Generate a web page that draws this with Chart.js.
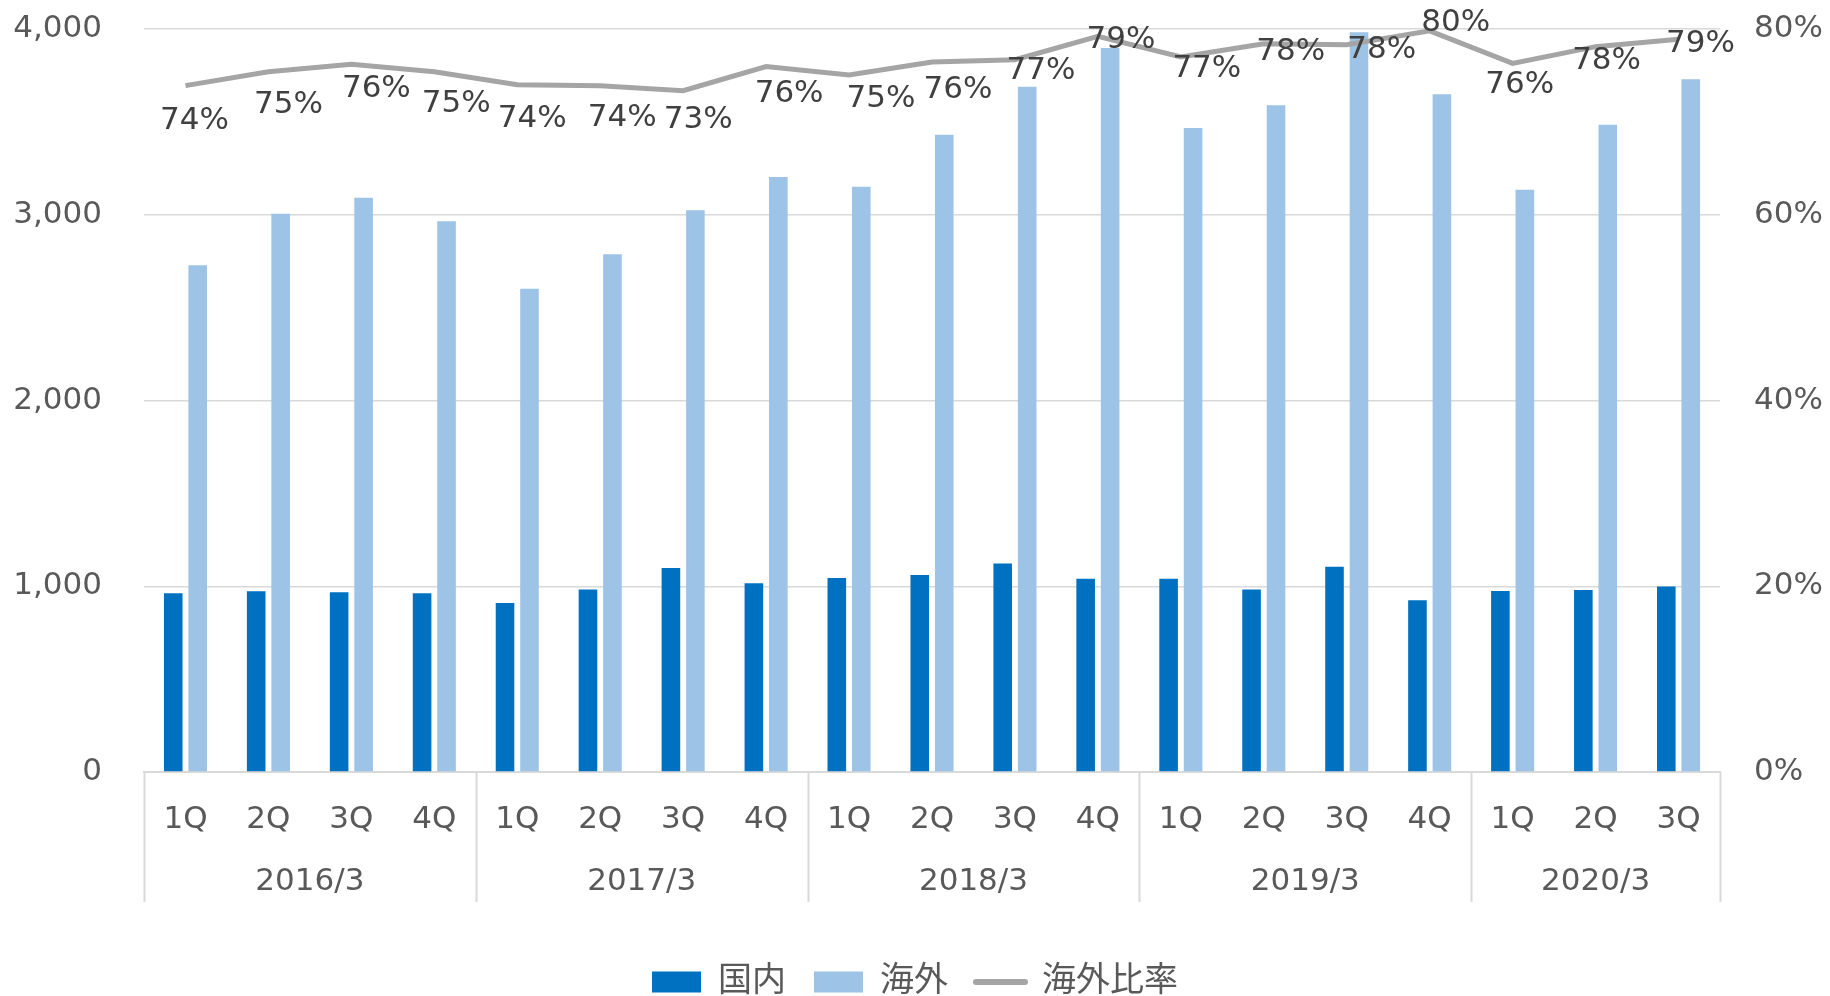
<!DOCTYPE html>
<html>
<head>
<meta charset="utf-8">
<script src="https://cdn.jsdelivr.net/npm/chart.js@4.4.1/dist/chart.umd.min.js"></script>
<style>
  body { margin: 0; background: #fff; }
  #wrap { width: 1830px; height: 996px; }
</style>
</head>
<body>
<div id="wrap"><canvas id="myChart"></canvas></div>
<script>
const quarters = ['1Q', '2Q', '3Q', '4Q', '1Q', '2Q', '3Q', '4Q', '1Q', '2Q', '3Q', '4Q', '1Q', '2Q', '3Q', '4Q', '1Q', '2Q', '3Q'];
const fiscalYears = ['2016/3', '2017/3', '2018/3', '2019/3', '2020/3'];
const quartersPerYear = [4, 4, 4, 4, 3];

const domestic = [962, 973, 968, 962, 910, 982, 1098, 1016, 1045, 1060, 1123, 1040, 1040, 982, 1105, 924, 975, 980, 998];
const overseas = [2728, 3005, 3091, 2965, 2602, 2788, 3024, 3203, 3151, 3431, 3689, 3898, 3467, 3589, 3983, 3649, 3134, 3485, 3729];
const overseasRatio = [73.9, 75.4, 76.2, 75.4, 74.0, 73.9, 73.35, 75.95, 75.05, 76.45, 76.7, 79.2, 77.0, 78.4, 78.3, 79.8, 76.3, 78.1, 78.9];

const leftTicks = [0, 1000, 2000, 3000, 4000];
const rightTicks = [0, 20, 40, 60, 80];

// where each % label sits relative to its point (px), like the excel file
const labelShiftX = [9, 20, 25, 22, 15, 22, 15, 23, 32, 26, 26, 23, 26, 27, 35, 26, 7, 11, 22];
const labelShiftY = [35, 33, 25, 32, 34, 32, 29, 27, 24, 28, 11, 4, 12, 8, 5, -8, 22, 14, 5];

const FONT = "'DejaVu Sans', Verdana, 'Noto Sans CJK JP', sans-serif";
const GRID = '#d9d9d9';
const TEXT = '#595959';

// two level category axis: year names + separators under the quarters
const groupAxis = {
    id: 'groupAxis',
    afterDraw(chart) {
        const ctx = chart.ctx;
        const x = chart.scales.x;
        const top = chart.chartArea.bottom;
        const half = (x.getPixelForValue(1) - x.getPixelForValue(0)) / 2;
        ctx.save();
        ctx.strokeStyle = GRID;
        ctx.lineWidth = 2;
        ctx.fillStyle = TEXT;
        ctx.font = '31px ' + FONT;
        ctx.textAlign = 'center';
        ctx.textBaseline = 'middle';
        let start = 0;
        const edges = [x.getPixelForValue(0) - half];
        fiscalYears.forEach((name, g) => {
            const end = start + quartersPerYear[g] - 1;
            const left = x.getPixelForValue(start) - half;
            const right = x.getPixelForValue(end) + half;
            ctx.fillText(name, (left + right) / 2, top + 110);
            edges.push(right);
            start = end + 1;
        });
        edges.forEach(px => {
            ctx.beginPath();
            ctx.moveTo(Math.round(px) + 0.5, top);
            ctx.lineTo(Math.round(px) + 0.5, top + 130);
            ctx.stroke();
        });
        ctx.restore();
    }
};

const ratioLabels = {
    id: 'ratioLabels',
    afterDatasetsDraw(chart) {
        const ctx = chart.ctx;
        const meta = chart.getDatasetMeta(2);
        ctx.save();
        ctx.fillStyle = '#404040';
        ctx.font = '31px ' + FONT;
        ctx.textAlign = 'center';
        ctx.textBaseline = 'middle';
        meta.data.forEach((p, i) => {
            ctx.fillText(Math.round(overseasRatio[i]) + '%', p.x + labelShiftX[i], p.y + labelShiftY[i]);
        });
        ctx.restore();
    }
};

// keep the tick padding from pushing the plot area down
function fitSide(width) {
    return scale => {
        scale.width = width;
        scale.paddingTop = 0;
        scale.paddingBottom = 0;
    };
}

const ctx = document.getElementById('myChart').getContext('2d');
let myChart = new Chart(ctx, {
    type: 'bar',
    data: {
        labels: quarters,
        datasets: [{
            label: '国内',
            data: domestic,
            backgroundColor: '#0070c0',
            yAxisID: 'y',
            order: 1
        }, {
            label: '海外',
            data: overseas,
            backgroundColor: '#9dc3e6',
            yAxisID: 'y',
            order: 1
        }, {
            type: 'line',
            label: '海外比率',
            data: overseasRatio,
            borderColor: '#a5a5a5',
            backgroundColor: '#a5a5a5',
            borderWidth: 5,
            pointRadius: 0,
            tension: 0,
            yAxisID: 'y1',
            order: 0
        }]
    },
    options: {
        responsive: true,
        maintainAspectRatio: false,
        animation: false,
        categoryPercentage: 0.59,
        barPercentage: 0.76,
        layout: { padding: { top: 29, left: 0, right: 0, bottom: -13 } },
        plugins: {
            tooltip: { enabled: false },
            legend: {
                position: 'bottom',
                labels: {
                    usePointStyle: true,
                    pointStyleWidth: 49,
                    boxHeight: 21,
                    padding: 28,
                    color: TEXT,
                    font: { family: FONT, size: 34 },
                    generateLabels(chart) {
                        const items = Chart.defaults.plugins.legend.labels.generateLabels(chart);
                        items.forEach(it => {
                            if (it.datasetIndex === 2) {
                                it.pointStyle = 'line';
                                it.lineCap = 'round';
                                it.lineWidth = 6;
                                it.strokeStyle = '#a5a5a5';
                            } else {
                                it.pointStyle = 'rect';
                                it.lineWidth = 0;
                            }
                        });
                        return items.sort((a, b) => a.datasetIndex - b.datasetIndex);
                    }
                }
            }
        },
        scales: {
            x: {
                grid: { display: false },
                border: { display: true, color: GRID, width: 2 },
                ticks: { color: TEXT, font: { family: FONT, size: 31 }, padding: 21, maxRotation: 0, autoSkip: false },
                afterFit(scale) { scale.height = 165; }
            },
            y: {
                position: 'left',
                min: 0,
                max: 4000,
                grid: { color: GRID, lineWidth: 1.5, drawTicks: false },
                border: { display: false },
                afterBuildTicks(scale) { scale.ticks = leftTicks.map(v => ({ value: v })); },
                ticks: {
                    color: TEXT,
                    font: { family: FONT, size: 31 },
                    padding: 42,
                    callback: v => v.toLocaleString('en-US')
                },
                afterFit: fitSide(144)
            },
            y1: {
                position: 'right',
                min: 0,
                max: 80,
                grid: { drawOnChartArea: false, drawTicks: false },
                border: { display: false },
                afterBuildTicks(scale) { scale.ticks = rightTicks.map(v => ({ value: v })); },
                ticks: {
                    color: TEXT,
                    font: { family: FONT, size: 31 },
                    padding: 34,
                    callback: v => v + '%'
                },
                afterFit: fitSide(110)
            }
        }
    },
    plugins: [groupAxis, ratioLabels]
});
</script>
</body>
</html>
